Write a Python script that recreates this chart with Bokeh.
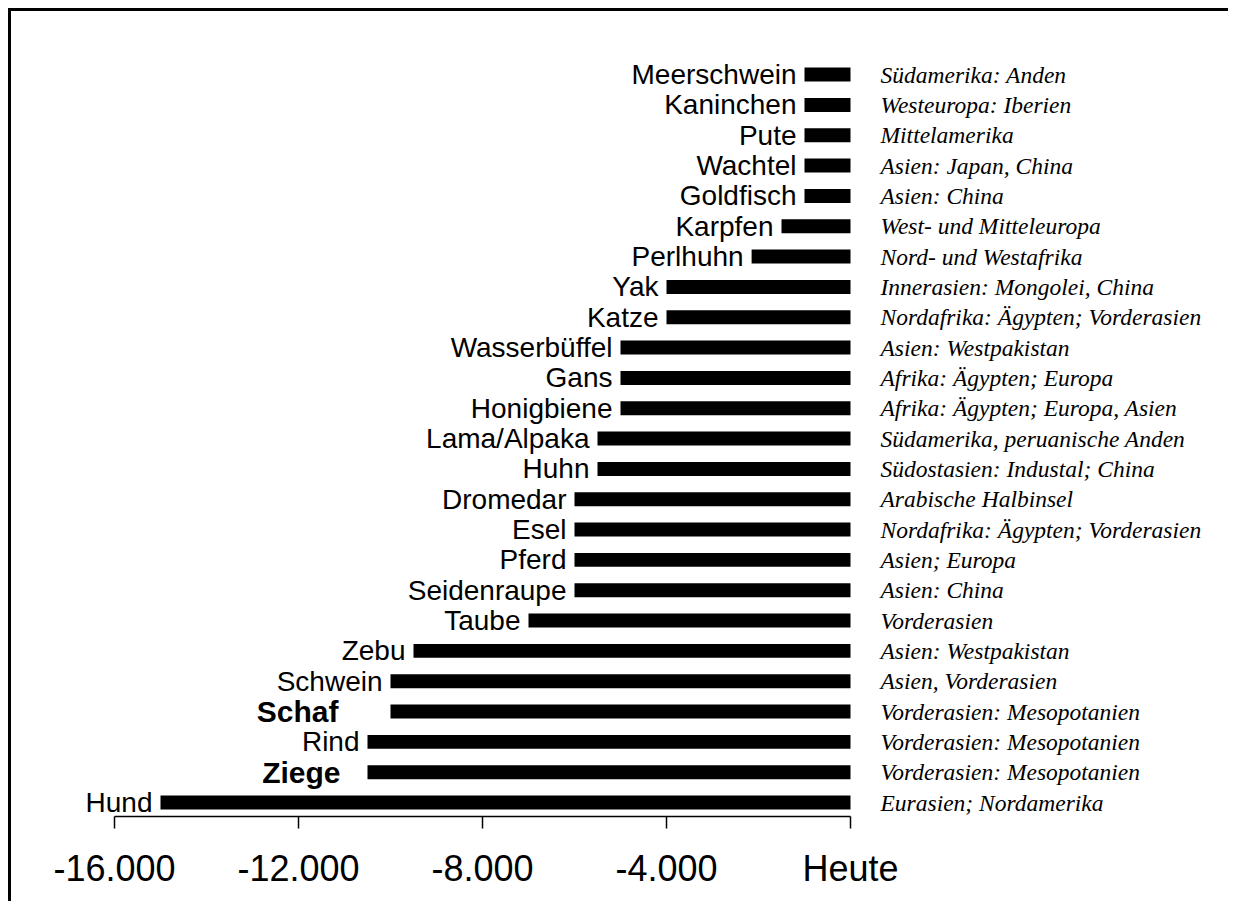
from bokeh.plotting import figure
from bokeh.models import LinearAxis, FixedTicker, Range1d, ColumnDataSource
from bokeh.core.properties import value
from bokeh.embed import file_html
from bokeh.resources import INLINE

# ---- data (top to bottom) ----
animals = ["Meerschwein", "Kaninchen", "Pute", "Wachtel", "Goldfisch", "Karpfen",
           "Perlhuhn", "Yak", "Katze", "Wasserbüffel", "Gans", "Honigbiene",
           "Lama/Alpaka", "Huhn", "Dromedar", "Esel", "Pferd", "Seidenraupe",
           "Taube", "Zebu", "Schwein", "Schaf", "Rind", "Ziege", "Hund"]
start_years = [-1000, -1000, -1000, -1000, -1000, -1500,
               -2150, -4000, -4000, -5000, -5000, -5000,
               -5500, -5500, -6000, -6000, -6000, -6000,
               -7000, -9500, -10000, -10000, -10500, -10500, -15000]
regions = ["Südamerika: Anden", "Westeuropa: Iberien", "Mittelamerika",
           "Asien: Japan, China", "Asien: China", "West- und Mitteleuropa",
           "Nord- und Westafrika", "Innerasien: Mongolei, China",
           "Nordafrika: Ägypten; Vorderasien", "Asien: Westpakistan",
           "Afrika: Ägypten; Europa", "Afrika: Ägypten; Europa, Asien",
           "Südamerika, peruanische Anden", "Südostasien: Industal; China",
           "Arabische Halbinsel", "Nordafrika: Ägypten; Vorderasien",
           "Asien; Europa", "Asien: China", "Vorderasien", "Asien: Westpakistan",
           "Asien, Vorderasien", "Vorderasien: Mesopotanien",
           "Vorderasien: Mesopotanien", "Vorderasien: Mesopotanien",
           "Eurasien; Nordamerika"]
bold_animals = ["Schaf", "Ziege"]
tick_values = [-16000, -12000, -8000, -4000, 0]
tick_labels = ["-16.000", "-12.000", "-8.000", "-4.000", "Heute"]

# ---- styles ----
bold_gap = {"Schaf": -52, "Ziege": -27}

n = len(animals)
ypos = [n - 1 - i for i in range(n)]

normal = dict(x=[], y=[], t=[])
bold = dict(x=[], y=[], t=[], off=[])
for a, s, yy in zip(animals, start_years, ypos):
    if a in bold_animals:
        bold["x"].append(s); bold["y"].append(yy); bold["t"].append(a)
        bold["off"].append(bold_gap[a])
    else:
        normal["x"].append(s); normal["y"].append(yy); normal["t"].append(a)

bars = ColumnDataSource(dict(y=ypos, left=start_years, right=[0] * n, region=regions))

p = figure(width=1220, height=893, output_backend="svg", toolbar_location=None,
           x_range=Range1d(-18239.1, 8282.6), y_range=Range1d(-0.46, 26.08),
           x_axis_location=None, y_axis_location=None,
           min_border_left=0, min_border_right=0, min_border_top=0,
           min_border_bottom=88)
p.styles = {"margin-left": "8px", "margin-top": "8px",
            "border-left": "3px solid black", "border-top": "3px solid black"}
p.outline_line_color = None
p.xgrid.visible = False
p.ygrid.visible = False
p.background_fill_color = "white"
p.border_fill_color = "white"

p.hbar(y="y", left="left", right="right", height=0.46, source=bars,
       fill_color="black", line_color=None)

p.text(x="x", y="y", text="t", source=ColumnDataSource(normal),
       x_offset=-8, text_align="right", text_baseline="middle",
       text_font=value("Liberation Sans"), text_font_size="28px", text_color="black")
p.text(x="x", y="y", text="t", x_offset="off", source=ColumnDataSource(bold),
       text_align="right", text_baseline="middle", text_font_style="bold",
       text_font=value("Liberation Sans"), text_font_size="30px", text_color="black")
p.text(x="right", y="y", text="region", source=bars, x_offset=30,
       text_align="left", text_baseline="middle", text_font_style="italic",
       text_font=value("Liberation Serif"), text_font_size="23.5px", text_color="black")

ax = LinearAxis(ticker=FixedTicker(ticks=tick_values), bounds=(-16000, 0))
ax.major_label_overrides = {v: l for v, l in zip(tick_values, tick_labels)}
ax.minor_tick_line_color = None
ax.major_tick_in = 0
ax.major_tick_out = 12
ax.major_tick_line_width = 1.5
ax.axis_line_width = 1.5
ax.major_label_standoff = 19
ax.major_label_text_font = "Liberation Sans"
ax.major_label_text_font_size = "36px"
ax.major_label_text_color = "black"
p.add_layout(ax, "below")

open("out.html", "w").write(file_html(p, INLINE))
